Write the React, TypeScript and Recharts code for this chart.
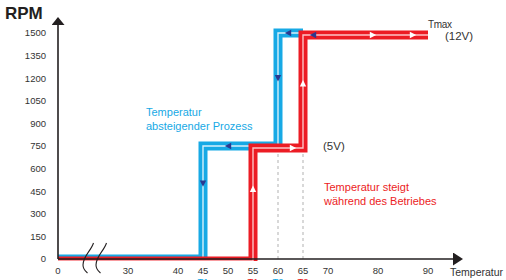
import React from "react";
import {
  ComposedChart,
  Line,
  Scatter,
  XAxis,
  YAxis,
  ReferenceLine,
  ReferenceDot,
} from "recharts";

// Temperatur absteigender Prozess (blue)
const fallTemps = [65, 60, 60, 45, 45, 0];
const fallRpm = [1500, 1500, 750, 750, 0, 0];

// Temperatur steigt während des Betriebes (red)
const riseTemps = [0, 55, 55, 65, 65, 90];
const riseRpm = [0, 0, 750, 750, 1500, 1500];

// direction arrows drawn on the bands
const fallArrowTemps = [62, 60, 50, 45];
const fallArrowRpm = [1500, 1200, 750, 500];
const fallArrowDirs = ["left", "down", "left", "down"];

const riseArrowTemps = [55, 63, 65, 79, 87];
const riseArrowRpm = [480, 750, 1180, 1500, 1500];
const riseArrowDirs = ["up", "right", "up", "right", "right"];

const crossArrowTemps = [67];
const crossArrowRpm = [1500];

const rpmTicks = [0, 150, 300, 450, 600, 750, 900, 1050, 1200, 1350, 1500];
const tempTicks = [0, 30, 40, 45, 50, 55, 60, 65, 70, 80, 90];

const markTemps = [45, 55, 60, 65];
const markNames = ["T1", "T1", "T2", "T2"];
const markSeries = ["fall", "rise", "fall", "rise"];

const BLUE = "#17a9e5";
const BLUE_INNER = "#d6f0fb";
const RED = "#ec1c24";
const RED_INNER = "#fbc3c6";
const NAVY = "#2b3990";
const AXIS = "#231f20";
const FONT = "'Liberation Sans', Arial, sans-serif";
const RISE_SHIFT = 2;

// broken axis: everything below 30 is squeezed, 0 sits at position 16
const pos = (t: number) => (t >= 30 ? t : 16 + (t * 14) / 30);

const toPoints = (temps: number[], rpm: number[]) =>
  temps.map((t, i) => ({ x: pos(t), rpm: rpm[i] }));

const fallData = toPoints(fallTemps, fallRpm);
const riseData = toPoints(riseTemps, riseRpm);
const fallArrows = fallArrowTemps.map((t, i) => ({
  x: pos(t),
  rpm: fallArrowRpm[i],
  dir: fallArrowDirs[i],
}));
const riseArrows = riseArrowTemps.map((t, i) => ({
  x: pos(t),
  rpm: riseArrowRpm[i],
  dir: riseArrowDirs[i],
}));
const crossArrows = crossArrowTemps.map((t, i) => ({
  x: pos(t),
  rpm: crossArrowRpm[i],
  dir: "left",
}));

function arrowPath(cx: number, cy: number, dir: string) {
  const l = 3.2;
  const w = 3.2;
  switch (dir) {
    case "left":
      return `M${cx - l},${cy} L${cx + l},${cy - w} L${cx + l},${cy + w} Z`;
    case "right":
      return `M${cx + l},${cy} L${cx - l},${cy - w} L${cx - l},${cy + w} Z`;
    case "up":
      return `M${cx},${cy - l} L${cx - w},${cy + l} L${cx + w},${cy + l} Z`;
    default:
      return `M${cx},${cy + l} L${cx - w},${cy - l} L${cx + w},${cy - l} Z`;
  }
}

const makeArrow = (color: string, shift: number) => (p: any) =>
  <path d={arrowPath(p.cx, p.cy + shift, p.payload.dir)} fill={color} />;

function BreakMark(p: any) {
  const { cx, cy } = p;
  return (
    <g fill="none" stroke={AXIS} strokeWidth={1.1}>
      <path
        d={`M${cx + 0.5},${cy - 16} C${cx - 2},${cy - 8} ${cx - 10},${cy - 3} ${cx - 10},${cy + 6} C${cx - 10},${cy + 10} ${cx - 8},${cy + 12} ${cx - 5.5},${cy + 14}`}
      />
      <path
        d={`M${cx + 13.5},${cy - 16} C${cx + 11},${cy - 8} ${cx + 3},${cy - 3} ${cx + 3},${cy + 6} C${cx + 3},${cy + 10} ${cx + 5},${cy + 12} ${cx + 7.5},${cy + 14}`}
      />
    </g>
  );
}

function TempTick(props: any) {
  const { x, y, payload } = props;
  const t = tempTicks.find((v) => pos(v) === payload.value) ?? payload.value;
  const mi = markTemps.indexOf(t);
  return (
    <g fontFamily={FONT} fontSize={9.5} textAnchor="middle">
      <text x={x} y={y} dy="0.71em" fill="#333">
        {t}
      </text>
      {mi >= 0 && (
        <text
          x={x}
          y={y + 11}
          dy="0.71em"
          fill={markSeries[mi] === "fall" ? BLUE : RED}
        >
          {markNames[mi]}
        </text>
      )}
    </g>
  );
}

const label = (
  left: number,
  top: number,
  size: number,
  lh: number,
  color: string,
  extra: React.CSSProperties = {}
): React.CSSProperties => ({
  position: "absolute",
  left,
  top,
  fontSize: size,
  lineHeight: `${lh}px`,
  color,
  fontFamily: FONT,
  whiteSpace: "nowrap",
  ...extra,
});

export default function App() {
  return (
    <div
      style={{
        position: "absolute",
        left: 0,
        top: 0,
        width: 506,
        height: 280,
        background: "#fff",
        overflow: "hidden",
      }}
    >
      <ComposedChart
        width={506}
        height={280}
        margin={{ top: 25, right: 53, bottom: 0, left: 8 }}
      >
        <defs>
          <marker
            id="arrowX"
            viewBox="0 0 10 13"
            markerWidth={10}
            markerHeight={13}
            refX={0}
            refY={6.5}
            orient="auto-start-reverse"
            markerUnits="userSpaceOnUse"
          >
            <path d="M0,0 L10,6.5 L0,13 Z" fill={AXIS} />
          </marker>
          <marker
            id="arrowY"
            viewBox="0 0 8 13"
            markerWidth={8}
            markerHeight={13}
            refX={0}
            refY={6.5}
            orient="auto-start-reverse"
            markerUnits="userSpaceOnUse"
          >
            <path d="M0,0 L8,6.5 L0,13 Z" fill={AXIS} />
          </marker>
        </defs>
        <XAxis
          dataKey="x"
          type="number"
          domain={[16, 95]}
          ticks={tempTicks.map(pos)}
          interval={0}
          allowDataOverflow
          height={21}
          tickLine={false}
          tick={<TempTick />}
          axisLine={{ stroke: AXIS, strokeWidth: 1.6, markerEnd: "url(#arrowX)" }}
        />
        <YAxis
          dataKey="rpm"
          type="number"
          domain={[0, 1553]}
          ticks={rpmTicks}
          interval={0}
          allowDataOverflow
          width={50}
          tickLine={false}
          tickMargin={6}
          tick={{ fill: "#333", fontSize: 9.5, fontFamily: FONT }}
          axisLine={{ stroke: AXIS, strokeWidth: 1.6, markerStart: "url(#arrowY)" }}
        />
        <ReferenceLine
          segment={[
            { x: pos(60), y: 0 },
            { x: pos(60), y: 720 },
          ]}
          stroke="#c8c8c8"
          strokeWidth={1.4}
          strokeDasharray="3 3"
        />
        <ReferenceLine
          segment={[
            { x: pos(65), y: 0 },
            { x: pos(65), y: 720 },
          ]}
          stroke="#c8c8c8"
          strokeWidth={1.4}
          strokeDasharray="3 3"
        />
        <Line
          data={fallData}
          dataKey="rpm"
          type="linear"
          stroke={BLUE}
          strokeWidth={9}
          strokeLinejoin="miter"
          dot={false}
          activeDot={false}
          isAnimationActive={false}
        />
        <Line
          data={fallData}
          dataKey="rpm"
          type="linear"
          stroke={BLUE_INNER}
          strokeWidth={1.4}
          dot={false}
          activeDot={false}
          isAnimationActive={false}
        />
        <Line
          data={riseData}
          dataKey="rpm"
          type="linear"
          stroke={RED}
          strokeWidth={9}
          strokeLinejoin="miter"
          transform={`translate(0 ${RISE_SHIFT})`}
          dot={false}
          activeDot={false}
          isAnimationActive={false}
        />
        <Line
          data={riseData}
          dataKey="rpm"
          type="linear"
          stroke={RED_INNER}
          strokeWidth={1.4}
          transform={`translate(0 ${RISE_SHIFT})`}
          dot={false}
          activeDot={false}
          isAnimationActive={false}
        />
        <Scatter
          data={fallArrows}
          dataKey="rpm"
          shape={makeArrow(NAVY, 0)}
          isAnimationActive={false}
        />
        <Scatter
          data={riseArrows}
          dataKey="rpm"
          shape={makeArrow("#ffffff", RISE_SHIFT)}
          isAnimationActive={false}
        />
        <Scatter
          data={crossArrows}
          dataKey="rpm"
          shape={makeArrow(NAVY, RISE_SHIFT)}
          isAnimationActive={false}
        />
        <ReferenceDot x={23} y={0} ifOverflow="visible" shape={<BreakMark />} />
      </ComposedChart>

      <div style={label(5, 4.5, 17, 17, "#231f20", { fontWeight: 700 })}>RPM</div>
      <div style={label(146, 105, 11, 14, BLUE)}>
        Temperatur
        <br />
        absteigender Prozess
      </div>
      <div style={label(324, 181, 11, 13.5, RED)}>
        Temperatur steigt
        <br />
        während des Betriebes
      </div>
      <div style={label(323, 139, 11.5, 14, "#333")}>(5V)</div>
      <div style={label(428, 18.5, 10, 12, "#333", { letterSpacing: -0.3 })}>Tmax</div>
      <div style={label(445, 28.5, 11.5, 14, "#333")}>(12V)</div>
      <div style={label(450, 266, 10.5, 13, "#333")}>Temperatur</div>
    </div>
  );
}
